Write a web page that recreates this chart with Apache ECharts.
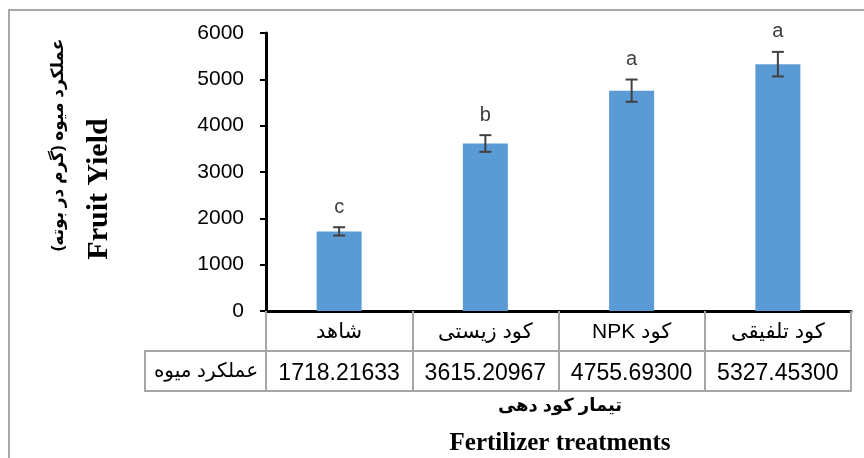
<!DOCTYPE html>
<html>
<head>
<meta charset="utf-8">
<script src="https://cdn.jsdelivr.net/npm/echarts@6/dist/echarts.min.js"></script>
<style>html,body{margin:0;padding:0;background:#fff}#c{width:864px;height:458px}</style>
</head>
<body>
<div id="c"></div>
<script>
var categories = ['شاهد', 'کود زیستی', 'کود NPK', 'کود تلفیقی'];
var values = [1718.21633, 3615.20967, 4755.69300, 5327.45300];
var errors = [90, 180, 240, 265];
var letters = ['c', 'b', 'a', 'a'];
var yTicks = [0, 1000, 2000, 3000, 4000, 5000, 6000];
var rowLabel = 'عملكرد ميوه';
var yTitleFa = 'عملكرد ميوه (گرم در بوته)';
var yTitleEn = 'Fruit Yield';
var xTitleFa = 'تیمار کود دهی';
var xTitleEn = 'Fertilizer treatments';

function rtl(s) { return '\u202B' + s + '\u202C'; }
var SANS = 'Liberation Sans, DejaVu Sans, sans-serif';
var SERIF = 'Liberation Serif, DejaVu Serif, serif';
var GRAY = '#a6a6a6';

var chart = echarts.init(document.getElementById('c'));
var option = {
  animation: false,
  backgroundColor: '#fff',
  grid: { left: 266, right: 13, top: 33, bottom: 147, containLabel: false, outerBoundsMode: 'none' },
  xAxis: [
    {
      type: 'category', data: categories.map(rtl), position: 'bottom', offset: 0,
      axisLine: { show: true, lineStyle: { color: '#000', width: 3 } },
      axisTick: { show: true, alignWithLabel: false, length: 80, lineStyle: { color: GRAY, width: 2 } },
      axisLabel: { fontSize: 21, color: '#000', margin: 11, fontFamily: SANS, interval: 0, hideOverlap: false }
    },
    {
      type: 'category', data: values.map(function (v) { return v.toFixed(5); }), position: 'bottom', offset: 40,
      axisLine: { show: true, lineStyle: { color: GRAY, width: 2 } },
      axisTick: { show: false },
      axisLabel: { fontSize: 23, color: '#000', margin: 11, fontFamily: SANS, interval: 0, hideOverlap: false }
    },
    {
      type: 'category', data: categories, position: 'bottom', offset: 80,
      axisLine: { show: true, lineStyle: { color: GRAY, width: 2 } },
      axisTick: { show: false }, axisLabel: { show: false }
    }
  ],
  yAxis: {
    type: 'value', min: yTicks[0], max: yTicks[yTicks.length - 1], interval: yTicks[1] - yTicks[0],
    axisLine: { show: true, lineStyle: { color: '#000', width: 3 } },
    axisTick: { show: true, length: 6, lineStyle: { color: '#000', width: 2 } },
    splitLine: { show: false },
    axisLabel: { fontSize: 21, color: '#000', margin: 22, fontFamily: SANS, formatter: function (v) { return String(v); } }
  },
  series: [
    {
      type: 'bar', data: values, barWidth: 45, xAxisIndex: 0,
      itemStyle: { color: '#5b9bd5' }
    },
    {
      type: 'custom', xAxisIndex: 0, z: 5,
      data: values.map(function (v, i) { return [i, v, errors[i]]; }),
      renderItem: function (params, api) {
        var i = api.value(0), v = api.value(1), e = api.value(2);
        var top = api.coord([i, v + e]);
        var bot = api.coord([i, v - e]);
        var hw = 6;
        var st = { stroke: '#404040', lineWidth: 2 };
        return {
          type: 'group',
          children: [
            { type: 'line', shape: { x1: top[0], y1: top[1], x2: bot[0], y2: bot[1] }, style: st },
            { type: 'line', shape: { x1: top[0] - hw, y1: top[1], x2: top[0] + hw, y2: top[1] }, style: st },
            { type: 'line', shape: { x1: bot[0] - hw, y1: bot[1], x2: bot[0] + hw, y2: bot[1] }, style: st },
            { type: 'text', style: { text: letters[params.dataIndex], x: top[0], y: top[1] - 20, align: 'center', verticalAlign: 'middle', fontSize: 20, fill: '#404040', fontFamily: SANS } }
          ]
        };
      }
    }
  ],
  graphic: [
    { type: 'rect', z: -10, shape: { x: 9, y: 10, width: 900, height: 500 }, style: { fill: 'none', stroke: '#8c8c8c', lineWidth: 1.5 } },
    { type: 'rect', shape: { x: 145, y: 351, width: 121, height: 40 }, style: { fill: 'none', stroke: GRAY, lineWidth: 2 } },
    { type: 'text', style: { text: rtl(rowLabel), x: 206, y: 371, align: 'center', verticalAlign: 'middle', fontSize: 20, fill: '#000', fontFamily: SANS } },
    { type: 'text', rotation: Math.PI / 2, x: 58, y: 145, style: { text: rtl(yTitleFa), x: 0, y: 0, align: 'center', verticalAlign: 'middle', fontSize: 17, fontWeight: 'bold', fill: '#000', fontFamily: SANS } },
    { type: 'text', rotation: Math.PI / 2, x: 99, y: 189, style: { text: yTitleEn, x: 0, y: 0, align: 'center', verticalAlign: 'middle', fontSize: 30, fontWeight: 'bold', fill: '#000', fontFamily: SERIF } },
    { type: 'text', style: { text: rtl(xTitleFa), x: 560, y: 406, align: 'center', verticalAlign: 'middle', fontSize: 18, fontWeight: 'bold', fill: '#000', fontFamily: SANS } },
    { type: 'text', style: { text: xTitleEn, x: 560, y: 444, align: 'center', verticalAlign: 'middle', fontSize: 25, fontWeight: 'bold', fill: '#000', fontFamily: SERIF } }
  ]
};
chart.setOption(option);
</script>
</body>
</html>
